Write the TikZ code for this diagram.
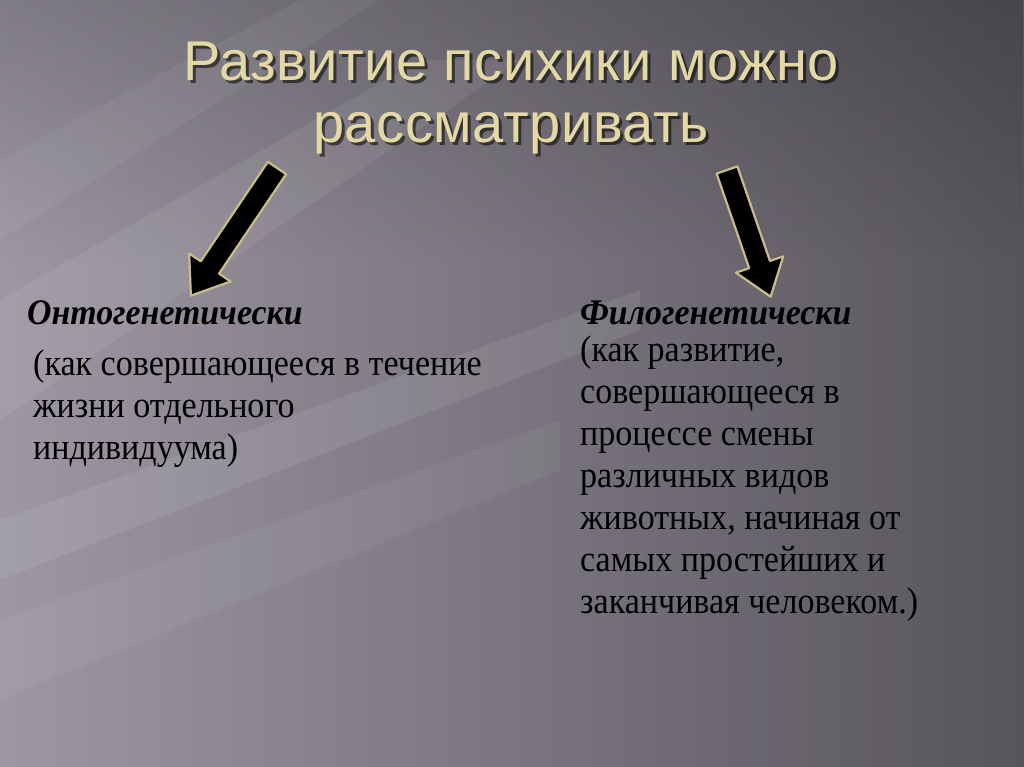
\documentclass[tikz,border=0pt]{standalone}
\usepackage{fontspec}
\setmainfont{Liberation Serif}
\newfontfamily\titlefont[LetterSpace=1]{Liberation Sans}
\newfontfamily\headfont[FakeStretch=0.94]{Liberation Serif}
\newfontfamily\bodyfont[FakeStretch=0.92]{Liberation Serif}
\usetikzlibrary{positioning,fadings}

\definecolor{bgdark}{HTML}{58545C}
\definecolor{bglight}{HTML}{9C97A2}
\definecolor{titlegold}{HTML}{E4D9A4}
\definecolor{arrowrim}{HTML}{C8BD88}

\tikzset{
  titletext/.style={font=\titlefont\fontsize{56}{62}\selectfont, text=titlegold, align=center},
  headtext/.style={font=\headfont\bfseries\itshape\fontsize{36}{40}\selectfont, anchor=base west, inner sep=0pt},
  bodytext/.style={font=\bodyfont\fontsize{37}{42}\selectfont, anchor=north west, align=left, inner sep=0pt},
  streak/.style={fill=white, opacity=#1},
  pics/fatarrow/.style={code={
    \draw[fill=black, draw=arrowrim, line width=2.2pt, line join=round]
      (0,-11) -- (#1-34,-11) -- (#1-34,-25) -- (#1,0) -- (#1-34,25) -- (#1-34,11) -- (0,11) -- cycle;
  }},
}

\begin{document}
\begin{tikzpicture}[x=1pt, y=1pt]
  \useasboundingbox (0,0) rectangle (1024,-767);
  % background
  \shade[left color=bglight, right color=bgdark] (0,0) rectangle (1024,-767);
  \fill[black, opacity=0.18, path fading=south] (0,0) rectangle (1024,-260);
  \fill[streak=0.07] (0,-300) -- (420,-60) -- (520,-60) -- (0,-420) -- cycle;
  \fill[streak=0.08] (0,-520) -- (640,-290) -- (640,-330) -- (0,-580) -- cycle;
  \fill[streak=0.05] (0,-620) -- (560,-420) -- (560,-470) -- (0,-700) -- cycle;
  \fill[streak=0.05] (0,-160) -- (300,0) -- (380,0) -- (0,-240) -- cycle;

  % title
  \node[titletext, text=black, opacity=0.55] at (514,-101) {Развитие психики можно\\рассматривать};
  \node[titletext] (title) at (511,-98) {Развитие психики можно\\рассматривать};

  % arrows
  \coordinate (lstart) at (277,-168);
  \coordinate (rstart) at (727,-170);
  \pic[rotate=236] at (lstart) {fatarrow=154};
  \pic[rotate=289] at (rstart) {fatarrow=134};

  % left column
  \node[headtext] (onto) at (27,-324) {Онтогенетически};
  \node[bodytext] (ontobody) at (33,-350) { (как совершающееся в течение\\жизни отдельного\\индивидуума)};

  % right column
  \node[headtext] (philo) at (580,-324) {Филогенетически};
  \node[bodytext] (philobody) at (580,-336) {(как развитие,\\совершающееся в\\процессе смены\\различных видов\\животных, начиная от\\самых простейших и\\заканчивая человеком.)};
\end{tikzpicture}
\end{document}
